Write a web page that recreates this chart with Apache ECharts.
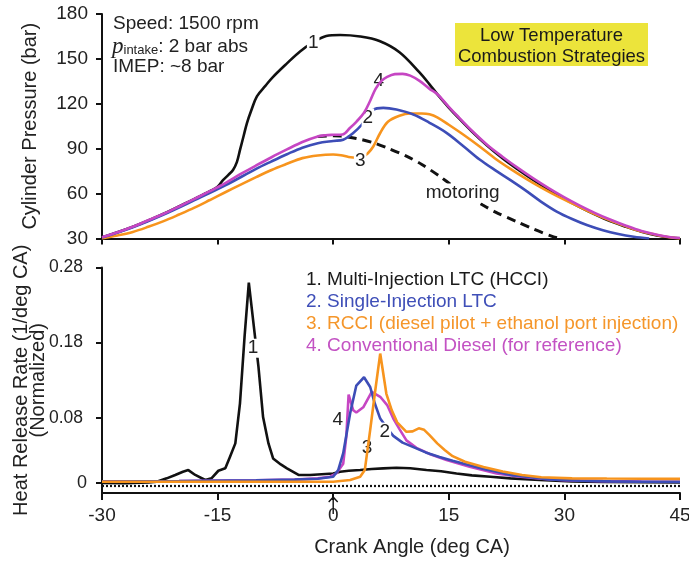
<!DOCTYPE html>
<html><head><meta charset="utf-8">
<script src="https://cdn.jsdelivr.net/npm/echarts@6/dist/echarts.min.js"></script>
<style>html,body{margin:0;padding:0;background:#fff}#c{width:689px;height:561px}</style>
</head><body><div id="c"></div>
<script>
const FONT = 'Liberation Sans, Arial, Helvetica, sans-serif';

// ---------- names / colours ----------
const seriesNames = [
  '1. Multi-Injection LTC (HCCI)',
  '2. Single-Injection LTC',
  '3. RCCI (diesel pilot + ethanol port injection)',
  '4. Conventional Diesel (for reference)'
];
const seriesColors = ['#111111', '#3d4db7', '#f7941d', '#c646c3'];
const legendColors = ['#1a1a1a', '#3f4fb8', '#f5962a', '#c352c3'];

// ---------- axes ----------
const xTickValues = [-30, -15, 0, 15, 30, 45];
const pTickValues = [30, 60, 90, 120, 150, 180];
const hrrZeroLevel = -0.0063;            // where the "0" label & dotted line sit
const hrrTickValues = [hrrZeroLevel, 0.08, 0.18, 0.28];

// ---------- top panel: cylinder pressure (bar) ----------
const cadMotoring = [-2, 0, 1, 3, 5.2, 7, 9.5, 11.5, 13.8, 15.5, 17, 19.4, 21, 23.8, 26, 28.5, 29.5];
const pMotoring   = [98.2, 98.6, 98.4, 96.8, 94, 90.5, 85, 79.5, 71.6, 65.2, 60, 52.4, 47.8, 41.3, 36.3, 31.3, 30.1];

const cadHCCI = [-30, -26, -22, -18, -16, -15, -14.3, -13.6, -13, -12.5, -12.1, -11.6, -11.2, -10.6, -9.9, -8.8, -7.8, -6, -4.3, -2.6, -0.9, 0.9, 3.5, 6, 8.6, 11.2, 12.5, 13.5, 15, 16, 18, 20, 22, 24, 26, 28, 30, 32, 34, 36, 38, 40, 42, 44, 45];
const pHCCI   = [30.7, 37.8, 46.5, 56.5, 61.6, 64.5, 69, 72.5, 75.8, 81, 89, 99, 107, 116, 125, 132, 138, 147, 155, 161, 165.3, 166, 165, 162, 154.5, 141, 133, 126.5, 117.5, 112, 101.5, 92, 83.5, 76, 69, 62.5, 56.5, 51, 46, 41.5, 37.8, 34.5, 32, 30.5, 30.2];

const cadSingle = [-30, -26, -22, -18, -14, -10, -8, -6, -4, -2, 0, 1.3, 2.6, 3.7, 5.2, 6.5, 8.2, 10.4, 12.5, 14.7, 16.9, 19, 21.2, 23, 25, 27, 29, 31, 33, 35, 37, 39, 41];
const pSingle   = [30.6, 37.5, 46, 55.6, 65.5, 76.5, 81.5, 86.3, 90.7, 93.7, 95.2, 96, 100.5, 106, 116, 117.3, 116.2, 112.9, 107.3, 100.6, 91.7, 82.8, 75, 69, 62, 54.5, 48, 43, 38.8, 35.5, 33, 31.2, 30];

const cadRCCI = [-30, -28, -26, -24, -22, -20, -18, -16, -14, -12, -10, -8, -6, -4, -2, 0, 1, 2, 3, 3.8, 4.5, 5.2, 6.1, 7.1, 8.6, 10, 11.5, 12.5, 13.5, 15, 17, 19, 21, 23, 25, 27, 29, 31, 33, 35, 37, 39, 41, 43, 45];
const pRCCI   = [30, 32, 34.4, 37.8, 41.6, 46, 50.6, 55.7, 60.9, 66, 71, 75.8, 79.9, 83.7, 85.5, 86.1, 85.6, 84.5, 84, 84.6, 87, 91.5, 100.5, 108, 112, 113.5, 113.5, 113, 111, 106, 99, 91.5, 83.5, 76.5, 70, 64, 58.5, 53.5, 48.5, 44, 40, 36.2, 33.5, 31.3, 30];

const cadDiesel = [-30, -28, -26, -24, -22, -20, -18, -16, -14, -12, -10, -8, -6, -4, -2, -1, 0, 1.2, 2.2, 3, 4, 4.8, 5.5, 6.3, 7, 8, 9, 10, 11.2, 12.5, 13.5, 15, 16, 18, 20, 22, 24, 26, 28, 30, 32, 34, 36, 38, 40, 42, 44, 45];
const pDiesel   = [30.8, 34.2, 37.8, 42.2, 46.5, 51.4, 56.5, 61.6, 67, 73.1, 78.8, 84.3, 89.5, 94.5, 98.2, 99, 99.3, 99.5, 104, 108, 114, 122, 130, 135.5, 138, 139.8, 140, 138.8, 135.3, 130, 126.5, 118, 112.5, 102, 92.5, 84.5, 77, 70, 63.5, 57.5, 52, 47, 42.5, 38.5, 35, 32.5, 30.7, 30.3];

// ---------- bottom panel: heat release rate (1/deg CA, normalized) ----------
const cadHrrHCCI = [-30, -27, -24, -22.9, -21.6, -20.5, -19.5, -18.8, -17.9, -16.6, -15.8, -14.9, -14, -13.4, -12.7, -12.1, -11.5, -10.95, -9.7, -9.1, -8.4, -7.8, -6.8, -6, -4.5, -3, -1.5, 0, 0.9, 2, 3.5, 5, 6.5, 8.2, 10, 12.1, 14, 16, 18, 20.4, 23, 26.8, 31, 35, 40, 45];
const hrrHCCI    = [-0.0065, -0.0068, -0.006, -0.005, -0.0005, 0.004, 0.0083, 0.0105, 0.004, -0.0027, -0.0005, 0.0096, 0.0128, 0.028, 0.046, 0.099, 0.188, 0.26, 0.148, 0.081, 0.046, 0.026, 0.018, 0.0128, 0.004, 0.004, 0.005, 0.006, 0.0083, 0.0095, 0.0105, 0.012, 0.0128, 0.0136, 0.013, 0.0105, 0.009, 0.006, 0.0035, 0.0016, -0.0005, -0.0027, -0.0045, -0.0052, -0.0056, -0.0058];

const cadHrrSingle = [-30, -20, -10, -5, -2, 0, 0.65, 1.3, 2.2, 3.0, 4.0, 4.8, 5.4, 6.1, 7, 7.8, 9, 10.4, 12, 13.8, 15.5, 17.7, 19.5, 21.2, 23, 25, 28, 32, 36, 40, 45];
const hrrSingle    = [-0.0048, -0.0042, -0.0032, -0.0022, -0.001, 0.0016, 0.0105, 0.033, 0.086, 0.123, 0.134, 0.121, 0.099, 0.079, 0.066, 0.056, 0.047, 0.041, 0.034, 0.028, 0.023, 0.017, 0.012, 0.0083, 0.004, 0.0016, -0.002, -0.0038, -0.0045, -0.005, -0.0052];

const cadHrrRCCI = [-30, -20, -10, -5, 0, 2.2, 3.5, 4.1, 4.8, 5.4, 6.1, 6.9, 7.6, 8.3, 9.5, 10.3, 11.1, 11.8, 12.5, 13.5, 14.5, 15.5, 17.1, 19.5, 22, 24.5, 27, 31, 35.5, 40, 45];
const hrrRCCI    = [-0.005, -0.005, -0.005, -0.005, -0.005, -0.0027, 0.0016, 0.0105, 0.064, 0.112, 0.1655, 0.112, 0.09, 0.074, 0.0614, 0.062, 0.066, 0.064, 0.057, 0.046, 0.037, 0.029, 0.0215, 0.0145, 0.0085, 0.004, 0.001, -0.0005, -0.0008, -0.001, -0.0012];

const cadHrrDiesel = [-30, -20, -10, -5, -2, -0.4, 0.4, 1.3, 1.7, 2.0, 2.6, 3.0, 3.9, 5.0, 6.1, 7.0, 7.8, 8.6, 9.5, 10.8, 12.5, 14.7, 17.7, 21.2, 24, 27, 30, 35, 40, 45];
const hrrDiesel    = [-0.0045, -0.004, -0.003, -0.002, -0.0005, 0.0016, 0.006, 0.019, 0.055, 0.111, 0.09, 0.087, 0.094, 0.1145, 0.108, 0.097, 0.079, 0.065, 0.05, 0.04, 0.032, 0.024, 0.015, 0.006, 0.002, -0.001, -0.003, -0.0042, -0.0048, -0.005];

// ---------- curve labels (data coordinates) ----------
const topLabels = [
  { series: 0, text: '1', at: [-2.6, 160.6] },
  { series: 1, text: '2', at: [4.5, 110.5] },
  { series: 2, text: '3', at: [3.5, 82.0] },
  { series: 3, text: '4', at: [5.9, 135.2] }
];
const motoringLabel = { text: 'motoring', at: [16.8, 60.4] };
const bottomLabels = [
  { series: 0, text: '1', at: [-10.4, 0.1726] },
  { series: 1, text: '2', at: [6.7, 0.061] },
  { series: 2, text: '3', at: [4.4, 0.0398] },
  { series: 3, text: '4', at: [0.6, 0.077] }
];

// ---------- annotations ----------
const noteLines = ['Speed: 1500 rpm', '{p|p}{s|intake}{t|: 2 bar abs}', 'IMEP: ~8 bar'];
const boxLines = ['Low Temperature', 'Combustion Strategies'];

function zip(xs, ys) { return xs.map((x, i) => [x, ys[i]]); }

const topData = [zip(cadHCCI, pHCCI), zip(cadSingle, pSingle), zip(cadRCCI, pRCCI), zip(cadDiesel, pDiesel)];
const bottomData = [zip(cadHrrHCCI, hrrHCCI), zip(cadHrrSingle, hrrSingle), zip(cadHrrRCCI, hrrRCCI), zip(cadHrrDiesel, hrrDiesel)];

const labelStyle = {
  show: true, position: 'inside', color: '#222', fontSize: 19, fontFamily: FONT,
  backgroundColor: '#fff', padding: [0, 1]
};
function mp(text, at) {
  return {
    coord: at, symbol: 'rect', symbolSize: 1,
    itemStyle: { color: 'rgba(0,0,0,0)' },
    label: Object.assign({}, labelStyle, { formatter: text })
  };
}

const axisLineStyle = { show: true, onZero: false, lineStyle: { color: '#111', width: 2 } };
const tickStyle = { show: true, length: 6, lineStyle: { color: '#111', width: 2 } };
const tickLabel = { color: '#222', fontSize: 19, fontFamily: FONT };

const series = [];
// motoring (dashed)
series.push({
  name: 'motoring', type: 'line', xAxisIndex: 0, yAxisIndex: 0, z: 1,
  data: zip(cadMotoring, pMotoring), smooth: 0.3, symbol: 'none',
  lineStyle: { color: '#111', width: 3, type: [9, 6] },
  markPoint: { silent: true, data: [mp(motoringLabel.text, motoringLabel.at)] }
});
const topOrder = [0, 2, 1, 3];
topOrder.forEach((i, k) => {
  series.push({
    name: seriesNames[i], type: 'line', xAxisIndex: 0, yAxisIndex: 0, z: 2 + k,
    data: topData[i], smooth: 0.35, symbol: 'none',
    lineStyle: { color: seriesColors[i], width: 2.6 },
    itemStyle: { color: seriesColors[i] },
    markPoint: { silent: true, data: topLabels.filter(l => l.series === i).map(l => mp(l.text, l.at)) }
  });
});
const bottomOrder = [0, 3, 1, 2];
bottomOrder.forEach((i, k) => {
  const s = {
    name: seriesNames[i], type: 'line', xAxisIndex: 1, yAxisIndex: 1, z: 2 + k,
    data: bottomData[i], smooth: false, symbol: 'none',
    lineStyle: { color: seriesColors[i], width: 2.6 },
    itemStyle: { color: seriesColors[i] },
    markPoint: { silent: true, data: bottomLabels.filter(l => l.series === i).map(l => mp(l.text, l.at)) }
  };
  if (i === 0) {
    s.markLine = {
      silent: true, symbol: 'none', z: 1,
      label: { show: false },
      lineStyle: { color: '#111', width: 2.2, type: [2, 2] },
      data: [{ yAxis: hrrZeroLevel }]
    };
    s.markPoint.data.push({
      coord: [0, -0.02], symbol: 'path://M5 0 L10 5.5 L9 6.5 L5.7 3 L5.7 18 L4.3 18 L4.3 3 L1 6.5 L0 5.5 Z',
      symbolSize: [10, 18], symbolOffset: [0, 12], itemStyle: { color: '#111' }, label: { show: false }
    });
  }
  series.push(s);
});

const option = {
  backgroundColor: '#fff',
  animation: false,
  textStyle: { fontFamily: FONT },
  grid: [
    { left: 102, top: 14, width: 578, height: 224.5, containLabel: false, outerBoundsMode: 'none' },
    { left: 102, top: 267.5, width: 578, height: 225.5, containLabel: false, outerBoundsMode: 'none' }
  ],
  xAxis: [
    { gridIndex: 0, type: 'value', min: -30, max: 45, interval: 15,
      axisLine: axisLineStyle, axisTick: tickStyle, axisLabel: { show: false }, splitLine: { show: false } },
    { gridIndex: 1, type: 'value', min: -30, max: 45, interval: 15,
      axisLine: axisLineStyle, axisTick: Object.assign({}, tickStyle, { length: 7 }),
      axisLabel: Object.assign({}, tickLabel, { margin: 13, customValues: xTickValues }), splitLine: { show: false },
      name: 'Crank Angle (deg CA)', nameLocation: 'middle', nameGap: 44, nameMoveOverlap: false,
      nameTextStyle: { color: '#222', fontSize: 20, fontFamily: FONT, padding: [0, 0, 0, 42] } }
  ],
  yAxis: [
    { gridIndex: 0, type: 'value', min: 30, max: 180, interval: 30,
      axisLine: axisLineStyle, axisTick: tickStyle,
      axisLabel: Object.assign({}, tickLabel, { margin: 14, customValues: pTickValues }), splitLine: { show: false },
      name: 'Cylinder Pressure (bar)', nameLocation: 'middle', nameGap: 62, nameMoveOverlap: false,
      nameTextStyle: { color: '#222', fontSize: 20, fontFamily: FONT } },
    { gridIndex: 1, type: 'value', min: -0.02, max: 0.28,
      axisLine: axisLineStyle,
      axisTick: Object.assign({}, tickStyle, { customValues: hrrTickValues }),
      axisLabel: Object.assign({}, tickLabel, { margin: 15, customValues: hrrTickValues,
        formatter: v => (v < 0.001 ? '{z|0}' : '{d|' + v.toFixed(2) + '}'),
        rich: {
          z: { fontSize: 18, fontFamily: FONT, color: '#222' },
          d: { fontSize: 17.5, fontFamily: FONT, color: '#222', padding: [0, 4, 0, 0] }
        } }),
      splitLine: { show: false },
      name: 'Heat Release Rate (1/deg CA)\n(Normalized)', nameLocation: 'middle', nameGap: 55, nameMoveOverlap: false,
      nameTextStyle: { color: '#222', fontSize: 20, lineHeight: 17, fontFamily: FONT } }
  ],
  legend: {
    orient: 'vertical', left: 296, top: 264, itemGap: 0, icon: 'none', itemWidth: 0, itemHeight: 14,
    selectedMode: false,
    textStyle: { fontSize: 19, lineHeight: 22, fontFamily: FONT },
    data: seriesNames.map((n, i) => ({ name: n, textStyle: { color: legendColors[i] } }))
  },
  graphic: [
    { type: 'text', left: 113, top: 14, style: { text: noteLines[0], font: '19px ' + FONT, fill: '#222' } },
    { type: 'text', left: 112, top: 35, style: {
        text: noteLines[1], fill: '#222',
        rich: {
          p: { fontFamily: 'Liberation Serif, serif', fontStyle: 'italic', fontSize: 23, fill: '#222' },
          s: { fontFamily: FONT, fontSize: 13, padding: [8, 0, 0, 0], fill: '#222' },
          t: { fontFamily: FONT, fontSize: 19, fill: '#222' }
        } } },
    { type: 'text', left: 113, top: 57, style: { text: noteLines[2], font: '19px ' + FONT, fill: '#222' } },
    { type: 'rect', left: 455, top: 23, shape: { width: 193, height: 43 }, style: { fill: '#ece43b' } },
    { type: 'text', x: 551.5, y: 25, style: {
        text: boxLines.join('\n'), font: '18.5px ' + FONT, fill: '#1a1a1a', align: 'center', verticalAlign: 'top', lineHeight: 21 } }
  ],
  series: series
};

const chart = echarts.init(document.getElementById('c'), null, { renderer: 'canvas' });
chart.setOption(option);
</script>
</body></html>
